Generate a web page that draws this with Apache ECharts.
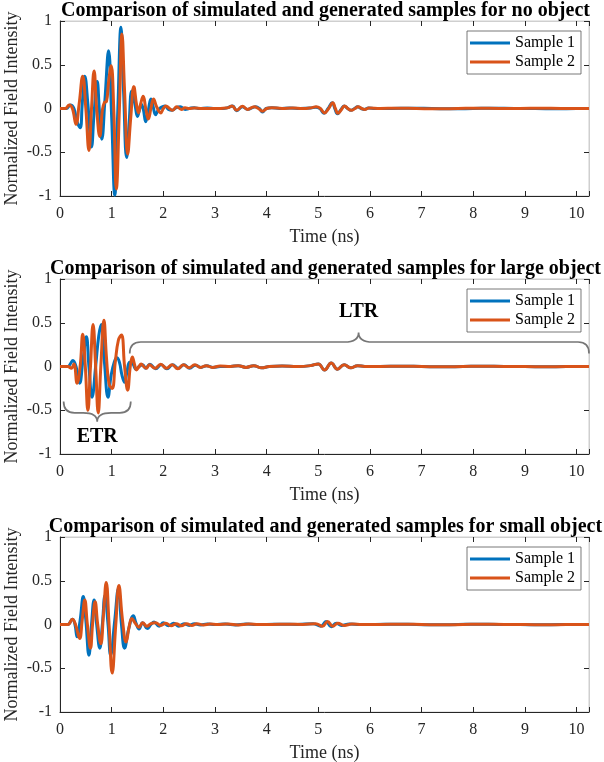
<!DOCTYPE html>
<html><head><meta charset="utf-8">
<script src="https://cdn.jsdelivr.net/npm/echarts@6/dist/echarts.min.js"></script>
<style>html,body{margin:0;padding:0;background:#fff}#c{width:604px;height:762px}</style>
</head><body><div id="c"></div>
<script>
// ---------- DATA ----------
const titles = [
  'Comparison of simulated and generated samples for no object',
  'Comparison of simulated and generated samples for large object',
  'Comparison of simulated and generated samples for small object'
];
const seriesNames = ['Sample 1', 'Sample 2'];
const xTicks = [0,1,2,3,4,5,6,7,8,9,10];
const yTicks = [-1,-0.5,0,0.5,1];

// no object
const tNo1 = [0,0.12,0.2,0.27,0.33,0.39,0.43,0.48,0.54,0.61, 0.66,0.72,0.76,0.81,0.87,0.94,1.0,1.06,1.12,1.18, 1.23,1.29,1.34,1.39,1.45,1.5,1.54,1.57,1.61,1.66, 1.71,1.76,1.8,1.85,1.9,1.95,2.03,2.1,2.17,2.25, 2.33,2.42,2.5,2.6,2.7,2.85,3.0,3.15,3.25,3.34, 3.42,3.53,3.63,3.79,3.86,3.92,3.99,4.1,4.25,4.45, 4.65,4.85,4.95,5.03,5.11,5.19,5.27,5.32,5.37,5.44, 5.5,5.57,5.63,5.7,5.76,5.83,5.89,5.97,6.1,6.4, 6.8,7.2,7.6,8.0,8.4,8.8,9.2,9.6,10.0,10.24];
const vNo1 = [0,0,0.04,0.0,-0.15,-0.22,0.05,0.37,0.05,-0.44, -0.05,0.31,0.0,-0.35,0.1,0.66,-0.1,-0.99,0.0,0.93, 0.2,-0.56,-0.15,0.2,0.05,-0.09,-0.01,0.05,0.0,-0.15, -0.02,0.11,0.03,-0.07,-0.02,0.01,0.03,-0.01,-0.02,0.01, 0.02,-0.01,0.0,0.01,0.0,0.005,0.0,0.0,0.01,0.03, -0.025,0.02,-0.01,0.02,0.0,-0.04,0.0,0.01,0.0,0.005, 0.0,0.005,0.015,0.0,-0.055,0.0,0.065,0.0,-0.06,-0.01, 0.03,0.0,-0.02,0.0,0.02,0.0,-0.01,0.005,0.0,0.0, 0.003,0.0,-0.003,0.0,0.003,0.0,0.0,-0.003,0.0,0.0];
const tNo2 = [0,0.1,0.18,0.24,0.31,0.37,0.44,0.5,0.56,0.61, 0.66,0.71,0.77,0.82,0.86,0.9,0.94,0.99,1.04,1.09, 1.15,1.2,1.25,1.31,1.37,1.43,1.48,1.52,1.56,1.61, 1.66,1.71,1.76,1.81,1.87,1.95,2.0,2.05,2.12,2.18, 2.26,2.35,2.42,2.5,2.6,2.75,2.9,3.05,3.2,3.26, 3.33,3.42,3.53,3.63,3.76,3.84,3.92,4.0,4.1,4.3, 4.5,4.7,4.88,4.96,5.04,5.12,5.2,5.28,5.33,5.38, 5.45,5.51,5.57,5.64,5.71,5.77,5.84,5.9,5.98,6.2, 6.5,6.9,7.3,7.7,8.1,8.5,8.9,9.3,9.7,10.1, 10.24];
const vNo2 = [0,0,0.04,0.0,-0.18,0.05,0.37,0.0,-0.48,0.0, 0.43,0.0,-0.32,-0.02,0.07,0.08,0.3,0.49,0.0,-0.92, 0.0,0.85,0.2,-0.52,-0.1,0.25,0.05,-0.05,0.05,0.14, 0.0,-0.12,0.0,0.11,0.02,-0.05,0.0,0.03,0.0,-0.02, 0.02,-0.01,0.01,0.0,0.005,0.0,0.0,0.0,0.005,0.01, 0.03,-0.02,0.025,-0.01,0.02,0.0,-0.03,0.0,0.01,0.0, 0.005,0.0,0.01,0.02,0.0,-0.05,0.0,0.065,0.0,-0.055, -0.01,0.03,0.0,-0.02,0.0,0.02,0.0,-0.01,0.005,0.0, 0.003,0.0,-0.003,0.0,0.003,0.0,0.0,0.003,0.0,0.0, 0.0];

// large object
const tLg1 = [0,0.15,0.2,0.25,0.31,0.38,0.44,0.51,0.56,0.62, 0.69,0.75,0.8,0.86,0.93,0.99,1.05,1.1,1.15,1.2, 1.25,1.3,1.35,1.41,1.47,1.53,1.6,1.66,1.74,1.85, 1.96,2.07,2.18,2.29,2.4,2.51,2.62,2.73,2.84,2.96, 3.1,3.3,3.45,3.6,3.75,3.9,4.05,4.3,4.6,4.85, 5.0,5.12,5.25,5.37,5.5,5.63,5.76,5.9,6.2,6.6, 7.0,7.4,7.8,8.2,8.6,9.0,9.4,9.8,10.24];
const vLg1 = [0,0,0.03,0.07,0.0,-0.19,0.05,0.34,0.0,-0.35, 0.0,0.35,0.48,0.05,-0.35,-0.1,0.05,0.1,0.05,-0.1, -0.18,-0.05,0.05,0.03,-0.03,0.0,0.02,-0.02,0.025,-0.025, 0.02,-0.025,0.02,-0.02,0.02,-0.02,0.015,-0.01,0.01,-0.01, 0.0,0.0,0.01,-0.01,0.01,-0.015,0.0,0.005,0.0,0.01, 0.03,-0.04,0.04,-0.03,0.02,-0.015,0.01,0.0,0.0,0.003, 0.0,-0.003,0.0,0.003,0.0,0.0,-0.003,0.0,0.0];
const tLg2 = [0,0.15,0.22,0.27,0.33,0.39,0.44,0.49,0.54,0.59, 0.64,0.69,0.74,0.79,0.85,0.9,0.95,1.01,1.07,1.13, 1.19,1.25,1.31,1.36,1.4,1.44,1.48,1.53,1.57,1.62, 1.67,1.73,1.84,1.95,2.06,2.17,2.28,2.39,2.5,2.61, 2.72,2.83,2.95,3.1,3.3,3.45,3.6,3.75,3.9,4.05, 4.3,4.6,4.85,5.0,5.12,5.25,5.37,5.5,5.63,5.76, 5.9,6.2,6.6,7.0,7.4,7.8,8.2,8.6,9.0,9.4, 9.8,10.24];
const vLg2 = [0,0,-0.02,0.03,-0.19,0.0,0.37,0.0,-0.5,0.0, 0.48,0.0,-0.53,0.0,0.53,0.1,-0.2,-0.25,0.05,0.3, 0.36,0.0,-0.27,0.0,0.11,0.03,-0.04,0.0,0.03,0.0, -0.02,0.02,-0.02,0.025,-0.02,0.02,-0.025,0.02,-0.015,0.02, -0.01,0.01,-0.01,0.005,0.0,0.01,-0.01,0.01,-0.015,0.0, 0.005,0.0,0.01,0.03,-0.04,0.04,-0.03,0.02,-0.015,0.01, 0.0,0.0,0.003,0.0,-0.003,0.0,0.003,0.0,0.0,-0.003, 0.0,0.0];

// small object
const tSm1 = [0,0.15,0.24,0.29,0.33,0.39,0.45,0.5,0.56,0.61, 0.66,0.71,0.77,0.82,0.87,0.93,0.98,1.06,1.13,1.19, 1.25,1.33,1.42,1.47,1.53,1.6,1.69,1.76,1.82,1.92, 2.0,2.1,2.2,2.3,2.4,2.5,2.6,2.72,2.85,3.0, 3.2,3.4,3.6,3.8,4.0,4.3,4.6,4.9,5.05,5.15, 5.25,5.35,5.45,5.6,5.8,6.1,6.5,6.9,7.3,7.7, 8.1,8.5,8.9,9.3,9.7,10.24];
const vSm1 = [0,0,0.06,0.0,-0.14,0.05,0.32,0.05,-0.35,0.0, 0.28,0.0,-0.27,0.0,0.33,0.0,-0.35,0.05,0.41,0.0, -0.27,-0.05,0.1,0.02,-0.05,0.02,-0.045,0.0,0.03,-0.02, 0.02,-0.015,0.015,-0.02,0.01,-0.01,0.01,-0.005,0.005,0.0, 0.005,-0.005,0.005,0.0,0.0,0.003,0.0,0.01,-0.02,0.035, -0.025,0.015,-0.01,0.005,0.0,0.0,0.003,0.0,-0.003,0.0, 0.003,0.0,0.0,-0.003,0.0,0.0];
const tSm2 = [0,0.15,0.24,0.3,0.38,0.43,0.48,0.53,0.59,0.63, 0.68,0.73,0.79,0.84,0.895,0.95,1.01,1.08,1.14,1.21, 1.28,1.34,1.39,1.45,1.53,1.6,1.68,1.76,1.85,1.95, 2.05,2.15,2.25,2.35,2.45,2.55,2.65,2.78,2.9,3.05, 3.25,3.45,3.65,3.85,4.1,4.4,4.7,4.95,5.08,5.18, 5.28,5.38,5.5,5.65,5.85,6.2,6.6,7.0,7.4,7.8, 8.2,8.6,9.0,9.4,9.8,10.24];
const vSm2 = [0,0,0.06,0.0,-0.16,0.05,0.28,0.0,-0.27,0.0, 0.26,0.0,-0.22,0.1,0.48,0.0,-0.555,0.0,0.445,0.05, -0.2,-0.02,0.07,0.02,-0.03,0.02,-0.02,0.01,0.02,-0.01, 0.015,-0.015,0.01,-0.015,0.01,-0.01,0.008,-0.005,0.005,0.0, 0.005,-0.005,0.005,0.0,0.0,0.003,0.0,0.01,-0.02,0.035, -0.02,0.015,-0.01,0.005,0.0,0.0,0.003,0.0,-0.003,0.0, 0.003,0.0,0.0,-0.003,0.0,0.0];

// annotation braces (data coords): [from t, to t, tip t, end v, flat v, tip v, label v]
const braceLabels = ['ETR', 'LTR'];
const braceETR = [0.07, 1.37, 0.72, -0.40, -0.53, -0.63, -0.80];
const braceLTR = [1.35, 10.24, 5.78, 0.15, 0.28, 0.39, 0.63];

// ---------- CHART ----------
const FONT = 'Liberation Serif';
const AX = '#262626';
const BOX = '#cfcfcf';
const COLORS = ['#0072BD', '#D95319'];
const TMAX = 10.24;
const gridTops = [21, 279, 537];
const GL = 60, GW = 529, GH = 175;
const panelData = [[[tNo1, vNo1], [tNo2, vNo2]], [[tLg1, vLg1], [tLg2, vLg2]], [[tSm1, vSm1], [tSm2, vSm2]]];
const zip = (t, v) => t.map((x, i) => [x, v[i]]);

const option = {
  animation: false,
  backgroundColor: '#fff',
  title: [], grid: [], xAxis: [], yAxis: [], legend: [], series: []
};

gridTops.forEach((top, g) => {
  option.title.push({
    text: titles[g], left: GL + GW / 2 + 1, top: top - 20, textAlign: 'center', padding: 0,
    textStyle: { fontFamily: FONT, fontSize: 20, fontWeight: 'bold', color: '#000' }
  });
  option.grid.push({ left: GL, top: top, width: GW, height: GH, show: true, borderColor: BOX, borderWidth: 1,
    backgroundColor: '#fff', containLabel: false, outerBoundsMode: 'none' });
  // bottom x
  option.xAxis.push({
    type: 'value', gridIndex: g, min: 0, max: TMAX, interval: 1, position: 'bottom',
    axisLine: { show: true, onZero: false, lineStyle: { color: AX, width: 1 } },
    axisTick: { show: true, inside: true, length: 5, lineStyle: { color: AX } },
    axisLabel: { color: AX, fontFamily: FONT, fontSize: 16, margin: 10,
      formatter: v => (xTicks.indexOf(Math.round(v * 1000) / 1000) >= 0 ? String(v) : '') },
    splitLine: { show: false },
    name: 'Time (ns)', nameLocation: 'middle', nameGap: 32, nameMoveOverlap: false,
    nameTextStyle: { color: AX, fontFamily: FONT, fontSize: 18 }
  });
  // top x
  option.xAxis.push({
    type: 'value', gridIndex: g, min: 0, max: TMAX, interval: 1, position: 'top',
    axisLine: { show: true, onZero: false, lineStyle: { color: BOX, width: 1 } },
    axisTick: { show: true, inside: true, length: 5, lineStyle: { color: AX } },
    axisLabel: { show: false }, splitLine: { show: false }
  });
  // left y
  option.yAxis.push({
    type: 'value', gridIndex: g, min: -1, max: 1, interval: 0.5, position: 'left',
    axisLine: { show: true, onZero: false, lineStyle: { color: AX, width: 1 } },
    axisTick: { show: true, inside: true, length: 5, lineStyle: { color: AX } },
    axisLabel: { color: AX, fontFamily: FONT, fontSize: 16, margin: 8,
      formatter: v => (yTicks.indexOf(v) >= 0 ? String(v) : '') },
    splitLine: { show: false },
    name: 'Normalized Field Intensity', nameLocation: 'middle', nameGap: 39, nameRotate: 90, nameMoveOverlap: false,
    nameTextStyle: { color: AX, fontFamily: FONT, fontSize: 18 }
  });
  // right y
  option.yAxis.push({
    type: 'value', gridIndex: g, min: -1, max: 1, interval: 0.5, position: 'right',
    axisLine: { show: true, onZero: false, lineStyle: { color: BOX, width: 1 } },
    axisTick: { show: true, inside: true, length: 5, lineStyle: { color: AX } },
    axisLabel: { show: false }, splitLine: { show: false }
  });
  option.legend.push({
    data: seriesNames, left: 467, top: top + 10, orient: 'vertical',
    icon: 'rect', itemWidth: 40, itemHeight: 3, itemGap: 3, padding: [4, 6, 4, 3],
    borderColor: '#555', borderWidth: 0.8, backgroundColor: '#fff',
    selectedMode: false,
    textStyle: { fontFamily: FONT, fontSize: 16, color: '#000', lineHeight: 16 }
  });
  panelData[g].forEach((pair, k) => {
    option.series.push({
      type: 'line', name: seriesNames[k], xAxisIndex: 2 * g, yAxisIndex: 2 * g,
      data: zip(pair[0], pair[1]), showSymbol: false, symbol: 'none', smooth: 0.45,
      lineStyle: { color: COLORS[k], width: 3 }, itemStyle: { color: COLORS[k] },
      z: 3 + k
    });
  });
});

option.series.push({
  type: 'custom', name: 'braces', xAxisIndex: 2, yAxisIndex: 2, z: 10, silent: true,
  encode: { x: [0, 1, 2], y: [3, 4, 5, 6] },
  data: [braceETR, braceLTR],
  renderItem: (params, api) => {
    const from = api.value(0), to = api.value(1), tip = api.value(2);
    const pE = api.coord([from, api.value(3)]);
    const pE2 = api.coord([to, api.value(3)]);
    const pF = api.coord([from, api.value(4)]);
    const pT = api.coord([tip, api.value(5)]);
    const pL = api.coord([tip, api.value(6)]);
    const x0 = pE[0], x1 = pE2[0], xm = pT[0], yE = pE[1], yF = pF[1], yT = pT[1];
    const r = 11, q = 14;
    const d = `M${x0},${yE} Q${x0},${yF} ${x0 + r},${yF} L${xm - q},${yF} Q${xm},${yF} ${xm},${yT} ` +
      `M${xm},${yT} Q${xm},${yF} ${xm + q},${yF} L${x1 - r},${yF} Q${x1},${yF} ${x1},${yE}`;
    return {
      type: 'group',
      children: [
        { type: 'path', shape: { pathData: d }, style: { fill: null, stroke: '#767676', lineWidth: 1.7 } },
        { type: 'text', style: { text: braceLabels[params.dataIndex], x: pL[0], y: pL[1], align: 'center', verticalAlign: 'middle',
          font: 'bold 20px "Liberation Serif"', fill: '#000' } }
      ]
    };
  }
});

const chart = echarts.init(document.getElementById('c'), null, { renderer: 'canvas' });
chart.setOption(option);
</script>
</body></html>
